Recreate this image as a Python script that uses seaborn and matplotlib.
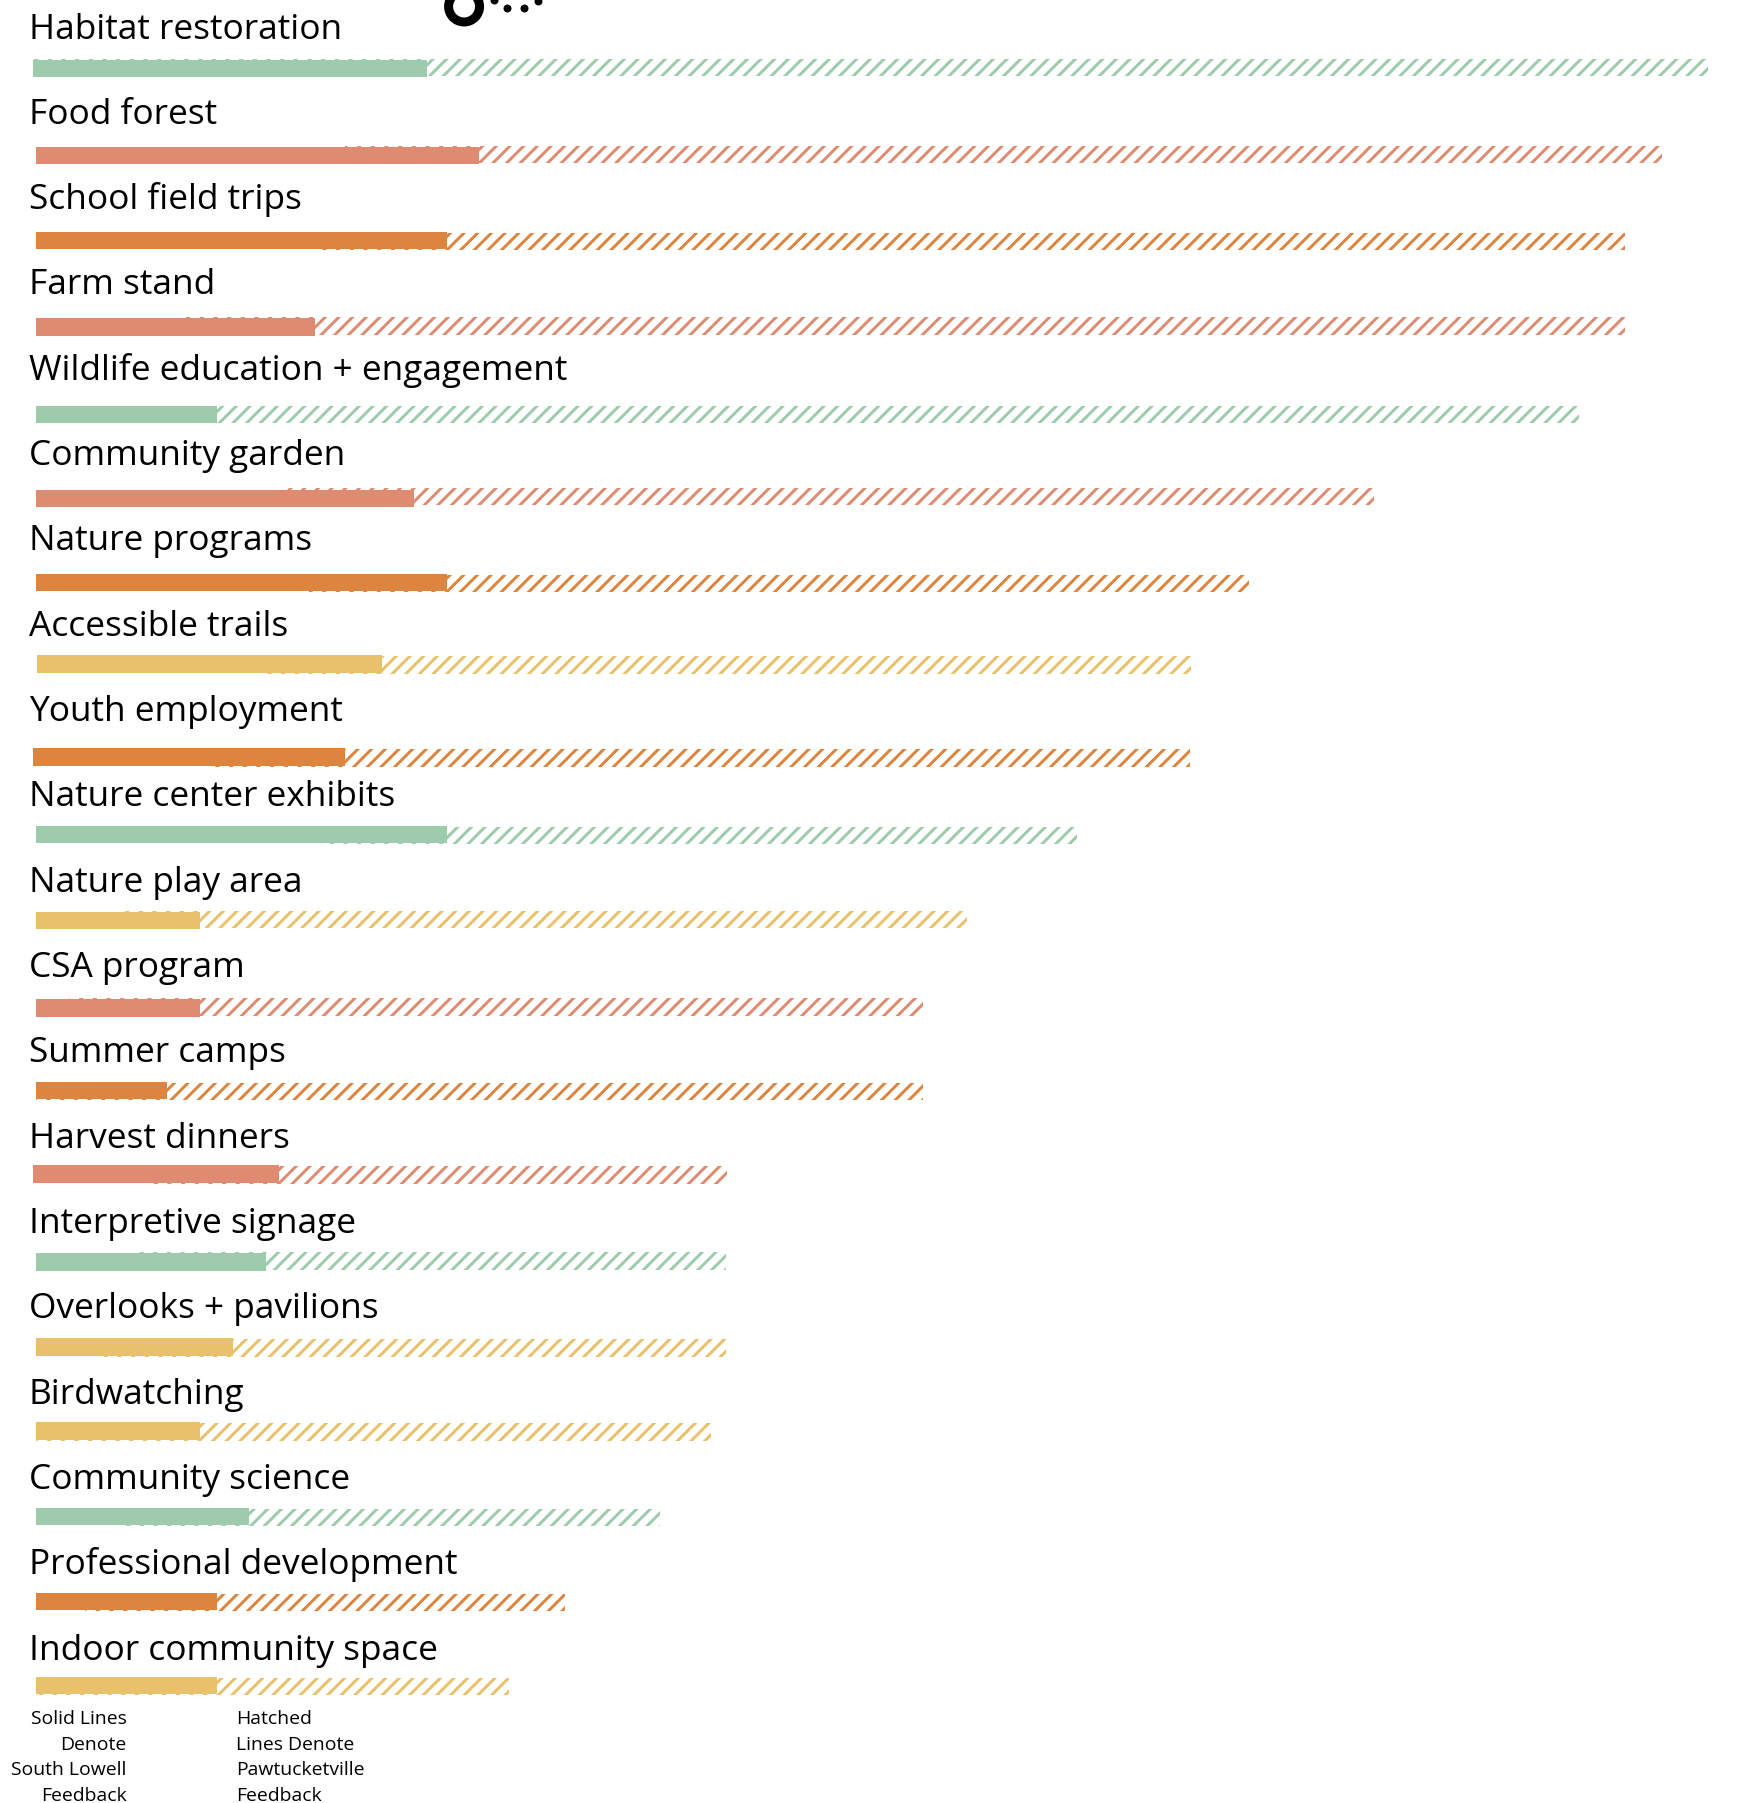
import matplotlib
matplotlib.use("Agg")
import matplotlib.pyplot as plt
import pandas as pd
import seaborn as sns

# ---- data ----
programs = ["Habitat restoration", "Food forest", "School field trips", "Farm stand",
            "Wildlife education + engagement", "Community garden", "Nature programs",
            "Accessible trails", "Youth employment", "Nature center exhibits",
            "Nature play area", "CSA program", "Summer camps", "Harvest dinners",
            "Interpretive signage", "Overlooks + pavilions", "Birdwatching",
            "Community science", "Professional development", "Indoor community space"]
themes = ["nature", "food", "youth", "food", "nature", "food", "youth", "access", "youth", "nature",
          "access", "food", "youth", "food", "nature", "access", "access", "nature", "youth", "access"]
south_lowell = [24, 27, 25, 17, 11, 23, 25, 21, 19, 25, 10, 10, 8, 15, 14, 12, 10, 13, 11, 11]
total = [102, 99, 96.8, 96.8, 94, 81.5, 73.9, 70.3, 70.5, 63.4, 56.7, 54, 54, 42.3, 42, 42, 41.1, 38, 32.2, 28.8]
hatch_from = [0, 18.8, 17.3, 9, 3, 15.3, 16.6, 13.6, 10.8, 17.3, 5, 2, 0, 7, 6, 3.6, 0, 5, 3, 0]

# ---- layout ----
row_shift = [-0.2, 0, 0, 0, 0, 0, 0, 0.05, -0.2, 0, 0, 0, 0, -0.2, 0, 0, 0, 0, 0, 0]
row_nudge = [.004, .024, .024, .034, .059, .044, .027, -.016, .074, -.019, -.011, .014, -.019, -.036,
             -.009, -.014, -.029, -.026, -.031, -.046]
hatch_nudge = [-.012, -.012, .012, -.012, 0, -.02, .012, .012, .012, .012,
               -.012, -.012, .012, .012, -.012, .012, .012, .012, .012, .012]
palette = {"nature": "#9DCBAB", "food": "#DE8B72", "youth": "#DD843F", "access": "#E9C06B"}
solid_note = ["Solid Lines", "Denote", "South Lowell", "Feedback"]
hatch_note = ["Hatched", "Lines Denote", "Pawtucketville", "Feedback"]

DPI = 82
W, H = 1748, 1803
PX_X, X0 = 16.42, 36.0      # pixels per count, pixel of zero
PX_Y, Y0 = 85.33, 68.0      # pixels per row, pixel of first row
BAR_H = 17.5 / PX_Y

sns.set_theme(style="white")
plt.rcParams["font.family"] = ["Open Sans", "DejaVu Sans"]
plt.rcParams["hatch.linewidth"] = 2.6

fig = plt.figure(figsize=((W + .01) / DPI, (H + .01) / DPI), dpi=DPI, facecolor="white")
ax = fig.add_axes([0, 0, 1, 1])

df = pd.DataFrame({"program": programs, "theme": themes, "south_lowell": south_lowell,
                   "total": total, "hatch_from": hatch_from, "shift": row_shift,
                   "nudge": row_nudge, "hnudge": hatch_nudge})
df["row"] = range(len(df))

for _, r in df.iterrows():
    c = palette[r["theme"]]
    y = r["row"] + r["nudge"]
    sns.barplot(x=[r["total"] - r["hatch_from"]], y=[y + r["hnudge"]], orient="h", native_scale=True,
                left=r["hatch_from"] + r["shift"], width=BAR_H, color=c, saturation=1, fill=False,
                hatch="//", linewidth=0, errorbar=None, ax=ax)
    sns.barplot(x=[r["south_lowell"]], y=[y], orient="h", native_scale=True,
                left=r["shift"], width=BAR_H, color=c, saturation=1, linewidth=0,
                errorbar=None, ax=ax)
    ax.text(-0.45, r["row"] + (38.5 - 68) / PX_Y, r["program"], fontsize=31,
            color="black", va="baseline", ha="left")

# cropped decorative glyph at the top edge
ax.scatter([26.07], [(6.5 - Y0) / PX_Y], s=740, facecolors="none", edgecolors="black", linewidths=7.9, zorder=5)
ax.scatter([27.9, 28.7, 29.7, 30.6], [(0 - Y0) / PX_Y, (8.3 - Y0) / PX_Y, (8.3 - Y0) / PX_Y, (1 - Y0) / PX_Y],
           s=49, color="black", linewidths=0, zorder=5)

# notes under the chart
for i, (a, b) in enumerate(zip(solid_note, hatch_note)):
    yy = (1724 + i * 25.7 - Y0) / PX_Y
    ax.text((126.5 - X0) / PX_X, yy, a, fontsize=17, ha="right", va="baseline", color="black")
    ax.text((236 - X0) / PX_X, yy, b, fontsize=17, ha="left", va="baseline", color="black")

ax.set_xlim(-X0 / PX_X, (W - X0) / PX_X)
ax.set_ylim((H - Y0) / PX_Y, -Y0 / PX_Y)
ax.set_axis_off()
fig.savefig("out.png", dpi=DPI, facecolor="white")
